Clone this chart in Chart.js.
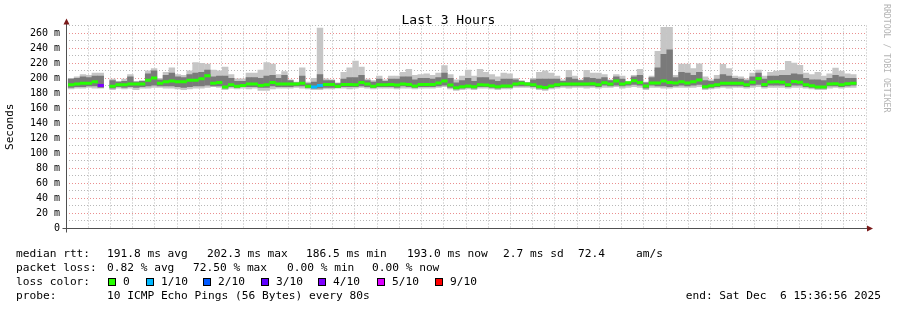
<!DOCTYPE html>
<html>
<head>
<meta charset="utf-8">
<script src="https://cdn.jsdelivr.net/npm/chart.js@4.4.1/dist/chart.umd.min.js"></script>
<style>
  html, body { margin: 0; padding: 0; background: #fff; }
  #wrap { position: relative; width: 897px; height: 310px; font-family: 'DejaVu Sans Mono', monospace; color: #000; overflow: hidden; }
  #chart { position: absolute; left: 0; top: 0; }
  .title { position: absolute; left: 0; top: 11px; width: 897px; text-align: center; font-size: 13px; line-height: 18px; }
  .credit { position: absolute; left: 882px; top: 4px; writing-mode: vertical-rl; font-size: 8.2px; color: #b4b4b4; white-space: pre; }
  .t { position: absolute; white-space: pre; font-size: 11.2px; line-height: 14px; }
  .box { position: absolute; width: 6px; height: 6px; border: 1px solid #000; }
</style>
</head>
<body>
<div id="wrap">
  <canvas id="chart" width="897" height="310"></canvas>
  <div class="title">Last 3 Hours</div>
  <div class="credit">RRDTOOL / TOBI OETIKER</div>
  <div id="legend"></div>
</div>
<script>
// time axis, seconds since midnight (12:36:56 .. 15:36:56)
const axisStart = 45416;
const axisEnd = 56216;
const stepStart = 45445;   // first 80 s step
const stepSec = 80;

// median rtt per step (ms)
const medianRtt = [
  191,192,193,193,195,190,null,189,191,191,
  192,192,192,197,200,193,195,196,195,195,
  197,197,199,203,193,194,188,191,189,190,
  192,192,190,191,194,192,192,192,192,193,
  189,188,190,191.5,191.5,189,191.5,191.5,191,194,
  192,189,191,191,191.5,190.6,192,191.5,189.3,191.5,
  191.5,191.5,193.3,196,190.6,187,188.4,189.3,188.4,191,
  190.6,189.7,188.4,189.3,189.3,192,193,192,191,188.4,
  187.5,189.3,191,192,192,192,192,192,192.4,191,
  193.7,192,196,192,193.7,196.4,194,189.3,193.3,193.3,
  196,194,193.3,195,193.3,195,197.3,188.4,189.7,191,
  193,193,193,193,191,194.2,199.5,191.5,194.6,195,
  194.2,191,195.5,194.2,191,189.7,188,188,192,192.4,
  191,192.4,193
];

// smoke: fastest / slowest ping per step
const smokeLo = [
  185,186,186,187,186,186,null,184,186,185,
  186,184,186,186,187,187,186,186,185,184,
  185,186,186,187,188,187,184,186,185,186,
  185,186,183,183,185,186,186,186,187,186,
  185,184,184,185,185,186,186,185,186,187,
  186,185,186,186,186,185,186,186,185,186,
  186,186,187,188,185,183,184,185,184,186,
  186,185,184,185,185,187,187,187,186,184,
  183,185,186,187,186,187,187,186,187,186,
  187,187,188,186,187,188,187,184,187,187,
  186,186,187,187,187,187,188,184,185,186,
  187,186,187,187,186,187,188,186,187,187,
  187,186,187,187,186,185,184,184,186,187,
  186,187,187
];
const smokeHi = [
  200,202,205,204,207,207,null,199,196,199,
  205,196,197,210,213,200,208,214,205,204,
  210,221,220,219,211,210,215,205,199.5,199.5,
  207,207,211,221,219,205,209,198,195,214,
  195,200,267,199.5,198,194,208,214,223,215,
  199,197,203,198,203,203,208,212,204,205,
  206,204,207,217,205,198,203,211,203,212,
  208,205,202,207,206,200,197,194.5,200,208,
  210,207,203,198,210.6,203,198,210.6,207,207,
  205,198,205,203,195,204,212,195,203,236,
  268,268,204,219,219,213,219.5,202,198,204,
  218.6,213,203,202,199.5,207,211,203,208,209.7,
  210.6,222.6,220.4,217.3,207,205,208,203,206,213.7,
  209.7,206,205
];

// denser smoke around the median
const coreLo = [
  187,188,188,189,189,187,null,186,188,187,
  188,187,188,189,190,189,189,189,188,187,
  188,189,189,190,189,189,186,188,187,188,
  188,188,187,187,189,188,188,188,189,189,
  187,186,186,187,187,187,188,188,188,189,
  188,187,188,188,188,187,189,188,187,188,
  188,188,189,190,187,185,186,187,186,188,
  188,187,186,187,187,189,189,189,188,186,
  185,187,188,189,189,189,189,189,189,188,
  190,189,190,189,190,191,190,186,190,189,
  189,188,189,190,189,190,191,186,187,188,
  189,189,189,189,188,190,191,188,190,190,
  190,188,190,190,188,187,186,186,189,189,
  188,189,190
];
const coreHi = [
  199,200,202,201,203,203,null,197,195,196,
  202,195,196,206,210,198,204,207,202,201,
  205,207,208,211,202,203,203,200,196,196,
  201,201,200,203,204,200,204,197,194,203,
  193,195,205,197,197,193,199,201,201,204,
  197,195,199,196,199,199,202,202,198,200,
  200,199,201,207,200,194,197,200,196,201,
  201,198,196,199,199,198,196,194,198,199,
  199,199,199,196,201,199,197,201,200,199,
  201,197,202,199,195,202,204,194,201,214,
  232,238,201,208,207,204,208,197,196,199,
  205,203,200,199,197,202,207,199,203,203,
  204,204,206,205,200,198,198,197,200,204,
  202,200,200
];

// lost pings out of 10 per step
const lossTenths = [
  0,0,0,0,0,4,0,0,0,0,
  0,0,0,0,0,0,0,0,0,0,
  0,0,0,0,0,0,0,0,0,0,
  0,0,0,0,0,0,0,0,0,0,
  0,1,1,0,0,0,0,0,0,0,
  0,0,0,0,0,0,0,0,0,0,
  0,0,0,0,0,0,0,0,0,0,
  0,0,0,0,0,0,0,0,0,0,
  0,0,0,0,0,0,0,0,0,0,
  0,0,0,0,0,0,0,0,0,0,
  0,0,0,0,0,0,0,0,0,0,
  0,0,0,0,0,0,0,0,0,0,
  0,0,0,0,0,0,0,0,0,0,
  0,0,0
];

// loss colour legend
const lossBuckets = [0, 1, 2, 3, 4, 5, 9];
const lossLabels = ['0', '1/10', '2/10', '3/10', '4/10', '5/10', '9/10'];
const lossColors = ['#26ff00', '#00b8ff', '#0059ff', '#5e00ff', '#7e00ff', '#dd00ff', '#ff0000'];

function lossColor(n) {
  let c = lossColors[0];
  lossBuckets.forEach((b, k) => { if (n >= b) c = lossColors[k]; });
  return c;
}

const times = medianRtt.map((_, i) => stepStart + stepSec * i + stepSec / 2);

function band(lo, hi) {
  const pts = [];
  times.forEach((t, i) => {
    if (lo[i] != null && hi[i] != null) pts.push({ x: t, y: [lo[i], hi[i]] });
  });
  return pts;
}

const medianPts = [];
times.forEach((t, i) => {
  if (medianRtt[i] != null) medianPts.push({ x: t, y: medianRtt[i], loss: lossTenths[i] });
});

function hhmm(v) {
  const h = Math.floor(v / 3600), m = Math.floor((v % 3600) / 60);
  return String(h).padStart(2, '0') + ':' + String(m).padStart(2, '0');
}

// axis lines and arrows, rrdtool style
const axesPlugin = {
  id: 'axes',
  afterDraw(chart) {
    const { ctx, chartArea: a } = chart;
    const x0 = Math.round(a.left) + 0.5;
    const y0 = Math.round(a.bottom) + 0.5;
    ctx.save();
    ctx.strokeStyle = '#505050';
    ctx.lineWidth = 1;
    ctx.beginPath();
    ctx.moveTo(x0, y0 + 4);
    ctx.lineTo(x0, a.top - 4);
    ctx.moveTo(x0 - 4, y0);
    ctx.lineTo(a.right + 2, y0);
    ctx.stroke();
    ctx.fillStyle = '#7a1a1a';
    ctx.beginPath();
    ctx.moveTo(x0, a.top - 7);
    ctx.lineTo(x0 - 3, a.top - 1);
    ctx.lineTo(x0 + 3, a.top - 1);
    ctx.closePath();
    ctx.fill();
    ctx.beginPath();
    ctx.moveTo(a.right + 7, y0);
    ctx.lineTo(a.right + 1, y0 - 3);
    ctx.lineTo(a.right + 1, y0 + 3);
    ctx.closePath();
    ctx.fill();
    ctx.restore();
  }
};

Chart.defaults.font.family = "'DejaVu Sans Mono', monospace";
Chart.defaults.color = '#000';

new Chart(document.getElementById('chart'), {
  type: 'bar',
  data: {
    datasets: [
      {
        type: 'line',
        data: medianPts,
        showLine: false,
        pointStyle: 'line',
        pointRadius: 3.1,
        pointHoverRadius: 3.1,
        pointBorderWidth: 3,
        pointHoverBorderWidth: 3,
        pointBorderColor: c => lossColor(c.raw ? c.raw.loss : 0),
        order: 0
      },
      {
        data: band(coreLo, coreHi),
        backgroundColor: '#7a7a7a',
        grouped: false,
        barPercentage: 1.08,
        categoryPercentage: 1,
        order: 1
      },
      {
        data: band(smokeLo, smokeHi),
        backgroundColor: '#c6c6c6',
        grouped: false,
        barPercentage: 1.08,
        categoryPercentage: 1,
        order: 2
      }
    ]
  },
  plugins: [axesPlugin],
  options: {
    responsive: false,
    animation: false,
    events: [],
    layout: { padding: { left: 0, right: 31, top: 25.5, bottom: 0 } },
    plugins: { legend: { display: false }, tooltip: { enabled: false } },
    scales: {
      x: {
        type: 'linear',
        min: axisStart,
        max: axisEnd,
        offset: false,
        z: 1,
        afterFit: s => { s.height = 82; },
        border: {
          display: false,
          dash: [1, 2]
        },
        grid: {
          offset: false,
          drawTicks: false,
          lineWidth: 1,
          color: c => (c.tick && c.tick.value % 1200 === 0) ? '#ea8e8e' : '#b8b8b8'
        },
        ticks: {
          stepSize: 300,
          includeBounds: false,
          autoSkip: false,
          maxRotation: 0,
          padding: 3,
          font: { size: 10 },
          callback: v => (v % 1200 === 0 ? hhmm(v) : '')
        }
      },
      y: {
        min: 0,
        max: 270,
        z: 1,
        afterFit: s => { s.width = 66; },
        border: {
          display: false,
          dash: [1, 2]
        },
        grid: {
          drawTicks: false,
          lineWidth: 1,
          color: c => (c.tick && c.tick.value % 20 === 0) ? '#ea8e8e' : '#b8b8b8'
        },
        title: {
          display: true,
          text: 'Seconds',
          font: { size: 11 },
          padding: { top: 4, bottom: 0 }
        },
        ticks: {
          stepSize: 10,
          autoSkip: false,
          padding: 6,
          font: { size: 10 },
          callback: v => (v % 20 !== 0 ? '' : (v === 0 ? '0' : v + ' m'))
        }
      }
    }
  }
});

// legend block under the graph
const legend = document.getElementById('legend');
function put(text, x, yc, right) {
  const d = document.createElement('div');
  d.className = 't';
  d.textContent = text;
  d.style.top = (yc - 7) + 'px';
  if (right) d.style.right = (897 - x) + 'px'; else d.style.left = x + 'px';
  legend.appendChild(d);
}
put('median rtt:', 16, 254);
put('191.8 ms avg', 107, 254);
put('202.3 ms max', 207, 254);
put('186.5 ms min', 306, 254);
put('193.0 ms now', 407, 254);
put('2.7 ms sd', 503, 254);
put('72.4', 578, 254);
put('am/s', 636, 254);
put('packet loss:', 16, 268);
put('0.82 % avg', 107, 268);
put('72.50 % max', 193, 268);
put('0.00 % min', 287, 268);
put('0.00 % now', 372, 268);
put('loss color:', 16, 282);
const boxX = [108, 146, 203, 261, 318, 377, 435];
lossLabels.forEach((lab, k) => {
  const b = document.createElement('div');
  b.className = 'box';
  b.style.left = boxX[k] + 'px';
  b.style.top = '278px';
  b.style.background = lossColors[k];
  legend.appendChild(b);
  put(lab, boxX[k] + 15, 282);
});
put('probe:', 16, 296);
put('10 ICMP Echo Pings (56 Bytes) every 80s', 107, 296);
put('end: Sat Dec  6 15:36:56 2025', 881, 296, true);
</script>
</body>
</html>
